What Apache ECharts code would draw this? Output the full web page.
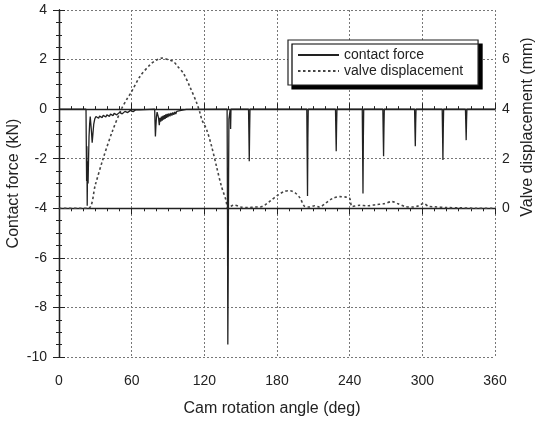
<!DOCTYPE html>
<html><head><meta charset="utf-8">
<script src="https://cdn.jsdelivr.net/npm/echarts@6/dist/echarts.min.js"></script>
<style>html,body{margin:0;padding:0;background:#fff}#c{width:540px;height:421px}</style>
</head><body><div id="c"></div>
<script>
// Contact force (kN) vs cam angle (deg)
const forceAngle = [0,22.3,22.5,22.8,23.0,23.3,23.6,24.0,24.4,24.8,25.3,25.8,26.3,26.8,27.4,28.0,28.7,29.5,30.5,31.2,32,32.7,33.5,34.2,35,35.7,36.5,37.2,38,38.7,39.5,40.2,41,41.7,42.5,43.2,44,44.7,45.5,46.2,47,47.7,48.5,49.2,50,50.7,51.5,52.2,53,53.7,54.5,55.2,56,56.7,57.5,58.2,59,59.7,60.5,61.2,62,62.7,63.5,64.2,65,66,67,
  79,79.3,79.6,80,80.5,81,81.6,82.2,82.8,83.4,84,84.6,85.2,85.8,86.4,87,87.6,88.2,88.8,89.4,90,90.8,91.6,92.4,93.2,94,94.8,95.6,96.4,97.2,98,99,100,101,102,103,104,105,106.5,
  138.8,139.1,139.4,139.7,140.0,140.3,141.4,141.7,142.0,
  156.5,156.8,157.1,157.4,157.7,
  204.6,204.9,205.2,205.5,205.8,
  228.3,228.6,228.9,229.2,229.5,
  250.4,250.7,251.0,251.3,251.6,
  267.4,267.7,268.0,268.3,268.6,
  293.6,293.9,294.2,294.5,294.8,
  316.4,316.7,317.0,317.3,317.6,
  335.6,335.9,336.2,336.5,336.8,
  360];
const forceKN = [0,0,-1.2,-2.9,-1.5,-3.9,-2.1,-3.0,-2.0,-1.1,-0.6,-0.3,-0.25,-0.9,-1.35,-1.0,-0.6,-0.4,-0.3,-0.38,-0.29,-0.37,-0.28,-0.36,-0.27,-0.34,-0.25,-0.33,-0.24,-0.32,-0.23,-0.3,-0.21,-0.29,-0.2,-0.27,-0.19,-0.26,-0.17,-0.25,-0.16,-0.23,-0.15,-0.22,-0.13,-0.2,-0.12,-0.19,-0.11,-0.17,-0.09,-0.16,-0.08,-0.14,-0.07,-0.13,-0.05,-0.11,-0.04,-0.1,-0.03,-0.08,-0.02,-0.06,-0.01,-0.03,0,
  0,-0.6,-1.1,-0.7,-0.3,-0.12,-0.05,-0.35,-0.65,-0.35,-0.5,-0.3,-0.46,-0.27,-0.42,-0.24,-0.39,-0.21,-0.35,-0.19,-0.32,-0.17,-0.29,-0.15,-0.26,-0.13,-0.23,-0.11,-0.2,-0.09,-0.16,-0.07,-0.12,-0.05,-0.09,-0.03,-0.05,-0.01,0,
  0,-4.0,-9.5,-6.8,-3.0,-0.4,0,-0.8,0,
  0,-1.0,-2.1,-0.9,0,
  0,-1.8,-3.5,-1.2,0,
  0,-0.9,-1.7,-0.7,0,
  0,-1.7,-3.4,-1.2,0,
  0,-1.0,-1.9,-0.8,0,
  0,-0.8,-1.5,-0.6,0,
  0,-1.0,-2.05,-0.8,0,
  0,-0.6,-1.25,-0.5,0,
  0];
// Valve displacement (mm) vs cam angle (deg)
const liftAngle = [0,24,30,36.4,44,51.5,56,60,66.9,75.2,80,85,90,94.5,98,102.7,108,113.8,116.4,118,122,126,130,134.2,137.8,139.5,142,145,150,156,162,166,170,175,181,186,190.7,195,199,203,207,211,215,220,226,232,237,240,242,248,255,262,268,275,280,286,292,297,301,305,310,320,330,345,360];
const liftMM = [0,0,0.95,2,3.1,4,4.4,4.71,5.32,5.79,5.97,6.06,6.0,5.92,5.72,5.45,4.91,4.24,3.85,3.57,3.16,2.5,1.7,0.87,0.34,0.0,0.08,0.13,0.05,0.03,0.05,0.05,0.13,0.32,0.54,0.68,0.71,0.62,0.42,0.07,0.05,0.1,0.05,0.2,0.4,0.47,0.45,0.4,0.07,0.12,0.1,0.15,0.18,0.27,0.18,0.07,0.05,0.1,0.2,0.08,0.06,0.03,0.02,0,0];
const xTicks = [0,60,120,180,240,300,360];
const leftTicks = [-10,-8,-6,-4,-2,0,2,4];
const rightTickLabels = [0,2,4,6];
const seriesNames = ['contact force','valve displacement'];

const forceData = forceAngle.map((a,i)=>[a,forceKN[i]]);
const liftData = liftAngle.map((a,i)=>[a,liftMM[i]]);

const FONT = 'Liberation Sans, Arial, sans-serif';
const txt = '#222';
const gridLine = {show:true, lineStyle:{color:'#777', type:[2,2], width:1}};
const axisLine = {show:true, lineStyle:{color:'#222', width:1.3}};
const tick = {inside:true, length:6, lineStyle:{color:'#222'}};

const chart = echarts.init(document.getElementById('c'), null, {renderer:'canvas'});
chart.setOption({
  animation:false,
  backgroundColor:'#fff',
  grid:{left:59, right:45, top:10, bottom:64, containLabel:false, outerBoundsMode:'none'},
  legend:{
    data:seriesNames, orient:'vertical', left:288, top:40,
    itemWidth:41, itemHeight:14, itemGap:2,
    padding:[8,15,7,9],
    backgroundColor:'#fff', borderColor:'#222', borderWidth:1.2,
    shadowColor:'#000', shadowBlur:0, shadowOffsetX:4, shadowOffsetY:4,
    itemStyle:{color:'rgba(0,0,0,0)', borderColor:'rgba(0,0,0,0)', borderWidth:0},
    textStyle:{fontFamily:FONT, fontSize:14, color:txt, padding:[0,0,0,0]}
  },
  xAxis:[{
    type:'value', min:xTicks[0], max:xTicks[xTicks.length-1], interval:60, position:'bottom',
    axisLine:axisLine, axisTick:tick,
    minorTick:{show:true, splitNumber:6, length:3, lineStyle:{color:'#222'}},
    splitLine:gridLine,
    axisLabel:{fontFamily:FONT, fontSize:14, color:txt, margin:17},
    name:'Cam rotation angle (deg)', nameLocation:'middle', nameGap:44, nameMoveOverlap:false,
    nameTextStyle:{fontFamily:FONT, fontSize:16, color:txt, padding:[0,10,0,0]}
  },{
    type:'value', min:0, max:360, interval:60, position:'top',
    axisLine:axisLine, axisTick:tick,
    minorTick:{show:true, splitNumber:6, length:3, lineStyle:{color:'#222'}},
    splitLine:{show:false}, axisLabel:{show:false}
  }],
  yAxis:[{
    type:'value', min:leftTicks[0], max:leftTicks[leftTicks.length-1], interval:2, position:'left',
    axisLine:axisLine, axisTick:tick,
    minorTick:{show:true, splitNumber:4, length:3, lineStyle:{color:'#222'}},
    splitLine:gridLine,
    axisLabel:{fontFamily:FONT, fontSize:14, color:txt, margin:12},
    name:'Contact force (kN)', nameLocation:'middle', nameGap:37, nameMoveOverlap:false,
    nameTextStyle:{fontFamily:FONT, fontSize:16, color:txt}
  },{
    type:'value', min:-6, max:8, interval:2, position:'right',
    axisLine:axisLine, axisTick:tick,
    minorTick:{show:true, splitNumber:4, length:3, lineStyle:{color:'#222'}},
    splitLine:{show:false},
    axisLabel:{fontFamily:FONT, fontSize:14, color:txt, margin:7,
      formatter:v=> rightTickLabels.indexOf(v)>=0 ? String(v) : ''}
  }],
  graphic:[{
    type:'text', x:528, y:127, rotation:Math.PI/2,
    style:{text:'Valve displacement (mm)', fontFamily:FONT, fontSize:16, fill:txt,
      textAlign:'center', textVerticalAlign:'middle'}
  }],
  series:[{
    name:seriesNames[0], type:'line', xAxisIndex:0, yAxisIndex:0, data:forceData,
    symbol:'none', lineStyle:{color:'#222', width:1.3}, itemStyle:{color:'#222'}, z:3
  },{
    name:seriesNames[1], type:'line', xAxisIndex:0, yAxisIndex:1, data:liftData,
    symbol:'none', smooth:0.3, lineStyle:{color:'#444', width:1.6, type:[2.5,2.5]}, itemStyle:{color:'#444'}, z:2
  }]
});
</script></body></html>
